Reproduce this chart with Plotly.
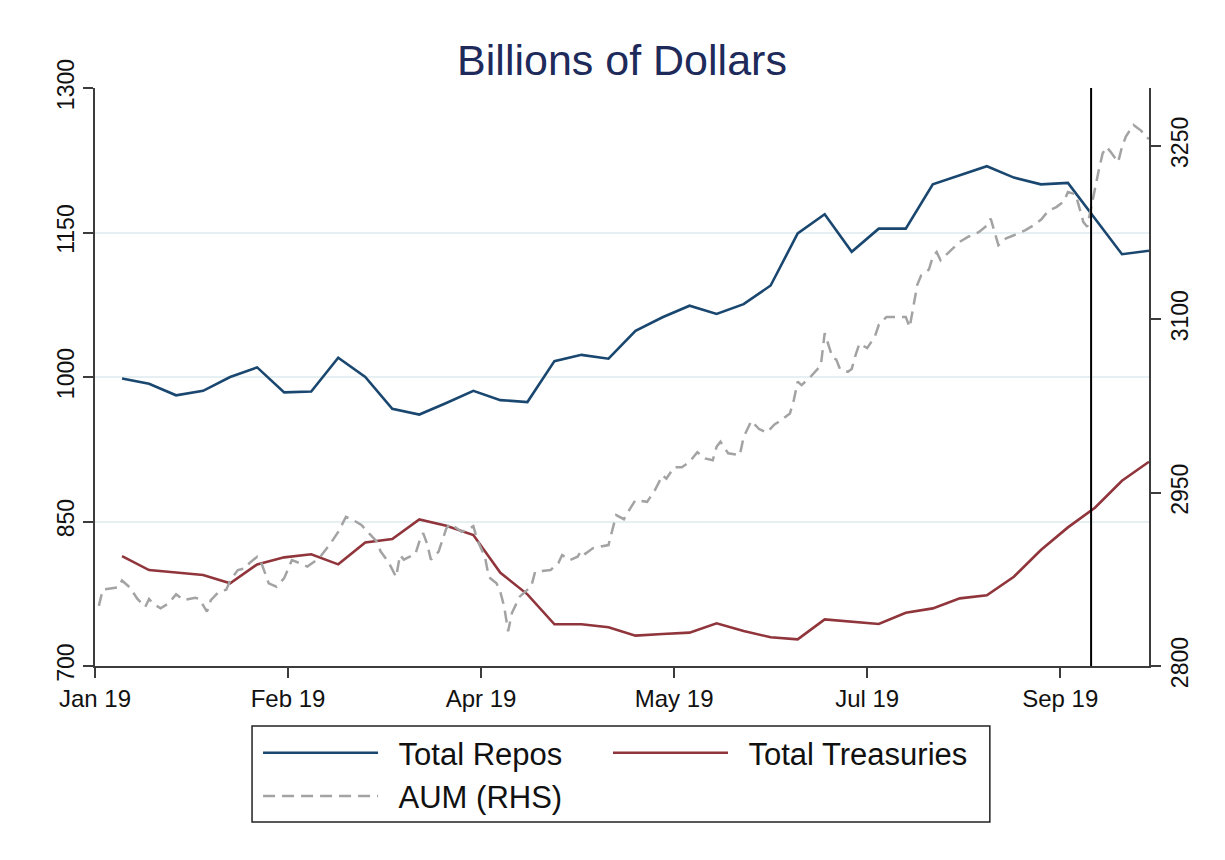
import pandas as pd
import plotly.graph_objects as go

# ---------------- data ----------------
base_date = "2019-01-01"
week_start = "2019-01-08"

total_repos = [998.5, 993, 981, 985.6, 1000, 1010, 984, 985, 1020, 1000,
               967, 961, 973, 985.6, 976, 974, 1016.5, 1023, 1019, 1048,
               1062, 1074, 1065.5, 1075.6, 1095, 1149, 1169, 1130, 1154, 1154,
               1200, 1209.5, 1218.8, 1207, 1200, 1201.5, 1164.5, 1127.5, 1131]

total_treasuries = [814, 799.6, 797, 794.4, 785.8, 805.5, 812.8, 816, 805.5, 828.3,
                    831.8, 852.2, 845.6, 836, 796.8, 774.4, 743.3, 743.3, 740.2, 731.5,
                    733.2, 734.6, 744.3, 736.3, 729.8, 727.7, 748.4, 746, 743.6, 755.3,
                    759.8, 770.2, 773.4, 792.7, 820.4, 843.9, 864.3, 892.3, 912]

# AUM: day offsets from 1 Jan 2019 and values (RHS)
aum_day = [1, 2, 4, 6, 7, 9, 11, 13, 14, 15, 17, 19, 21, 23, 26, 27, 29, 30, 32, 34,
           35, 37, 39, 40, 42, 43, 45, 47, 49, 51, 53, 55, 58, 61, 63, 65, 67, 69, 71, 73,
           74, 76, 78, 79, 80, 83, 84, 85, 86, 87, 89, 90, 91, 92, 95, 97, 98, 99, 101, 102,
           104, 105, 106, 107, 108, 110, 112, 113, 114, 116, 118, 120, 121, 123, 125, 126, 127, 129, 131, 133,
           134, 135, 137, 138, 140, 143, 145, 147, 148, 150, 152, 154, 156, 158, 160, 161, 162, 164, 167, 168,
           169, 170, 172, 174, 176, 177, 180, 181, 182, 183, 185, 188, 189, 190, 191, 192, 193, 195, 196, 197,
           198, 200, 202, 203, 205, 208, 210, 211, 212, 213, 214, 216, 217, 218, 219, 222, 224, 226, 228, 229,
           231, 232, 234, 236, 238, 241, 243, 245, 247, 249, 251, 252, 254, 255, 256, 257, 258, 259, 260, 261,
           262, 263, 265, 266, 267, 269, 271, 272, 273]
aum = [2852, 2866, 2867, 2868, 2874, 2868, 2858, 2851, 2858, 2854, 2850, 2854, 2862, 2857, 2859, 2858, 2847, 2857, 2864, 2866,
       2874, 2883, 2884.5, 2889, 2894.5, 2890, 2871.5, 2868.6, 2876, 2891.6, 2889, 2886, 2893, 2906, 2916, 2929, 2926, 2922, 2914.7, 2907.5,
       2899, 2890, 2877, 2896, 2892, 2897, 2907.5, 2915, 2906, 2892, 2899, 2909, 2919, 2923, 2916, 2919, 2921, 2909, 2894.5, 2877,
       2871.5, 2864, 2851, 2830, 2846, 2860, 2866, 2869, 2881.5, 2882, 2883, 2889, 2896, 2891.6, 2894.5, 2900, 2897, 2902, 2903, 2904.6,
       2917.6, 2930.6, 2927, 2933, 2943.5, 2942, 2952, 2965, 2962, 2972, 2972, 2976.6, 2985, 2979.6, 2978, 2989.6, 2994, 2984, 2982.4, 2998,
       3005, 3012, 3005, 3002, 3009, 3011, 3018.5, 3030, 3046, 3043, 3049, 3060, 3088, 3077, 3067, 3065, 3056.5, 3054.5, 3057, 3069,
       3079, 3075, 3085, 3095, 3102, 3102, 3102, 3093, 3111, 3130, 3138, 3143, 3154, 3158, 3151, 3161, 3167, 3171, 3174, 3175.5,
       3181, 3187, 3164, 3170, 3172.6, 3177, 3181, 3186, 3194, 3197, 3202, 3210, 3208, 3196, 3184, 3180, 3197, 3212, 3229, 3243.5,
       3249, 3245, 3236, 3249, 3258, 3268, 3263, 3258, 3256]

event_date = "2019-09-16"

tick_dates = ["2019-01-01", "2019-02-20", "2019-04-11", "2019-05-31", "2019-07-20", "2019-09-08"]
tick_labels = ["Jan 19", "Feb 19", "Apr 19", "May 19", "Jul 19", "Sep 19"]
left_ticks = [700, 850, 1000, 1150, 1300]
right_ticks = [2800, 2950, 3100, 3250]

# ---------------- build ----------------
week_dates = pd.date_range(week_start, periods=len(total_repos), freq="7D")
aum_dates = pd.Timestamp(base_date) + pd.to_timedelta(aum_day, unit="D")

FONT = "Liberation Sans, Arial, sans-serif"
BLUE = "#1a476f"
RED = "#90353b"
GRAY = "#a3a3a3"
AXIS = "#3c3c3c"
SP = "\u2002"

fig = go.Figure()
fig.add_trace(go.Scatter(x=aum_dates, y=aum, name=SP + "AUM (RHS)", yaxis="y2",
                         mode="lines", line=dict(color=GRAY, width=2.5, dash="12px,7px"),
                         legend="legend", legendrank=3))
fig.add_trace(go.Scatter(x=week_dates, y=total_treasuries, name=SP + "Total Treasuries",
                         mode="lines", line=dict(color=RED, width=2.6),
                         legend="legend2", legendrank=2))
fig.add_trace(go.Scatter(x=week_dates, y=total_repos, name=SP + "Total Repos",
                         mode="lines", line=dict(color=BLUE, width=2.6),
                         legend="legend", legendrank=1))

fig.add_shape(type="line", xref="x", yref="paper", x0=event_date, x1=event_date,
              y0=0, y1=1, line=dict(color="black", width=2))
# legend frame
fig.add_shape(type="rect", xref="paper", yref="paper", x0=0.149, x1=0.849,
              y0=-0.2698, y1=-0.1038, line=dict(color="#222222", width=1.5),
              fillcolor="rgba(0,0,0,0)", layer="above")

legend_common = dict(orientation="v", yanchor="top", xanchor="left", y=-0.104,
                     itemwidth=115, bgcolor="rgba(0,0,0,0)", borderwidth=0,
                     font=dict(size=31, family=FONT, color="#111111"),
                     traceorder="normal", tracegroupgap=0)

fig.update_layout(
    width=1225, height=860,
    paper_bgcolor="white", plot_bgcolor="white",
    margin=dict(l=87, r=84, t=80, b=202),
    font=dict(family=FONT, color="#111111"),
    title=dict(text="Billions of Dollars", x=0.5, xref="paper", xanchor="center",
               y=1 - 52 / 860, yref="container", yanchor="middle",
               font=dict(size=43, color="#1e2a5a", family=FONT)),
    showlegend=True,
    legend=dict(x=0.1547, **legend_common),
    legend2=dict(x=0.4867, **legend_common),
    xaxis=dict(type="date", range=["2019-01-01", "2019-10-01"],
               tickmode="array", tickvals=tick_dates, ticktext=tick_labels,
               ticks="outside", ticklen=10, tickwidth=1.5, tickcolor=AXIS,
               showline=True, linecolor=AXIS, linewidth=1.5, showgrid=False,
               zeroline=False, tickfont=dict(size=24, family=FONT, color="#111111")),
    yaxis=dict(range=[700, 1300], tickmode="array", tickvals=left_ticks,
               ticks="outside", ticklen=10, tickwidth=1.5, tickcolor=AXIS,
               showline=True, linecolor=AXIS, linewidth=1.5,
               showgrid=True, gridcolor="#e6f0f2", gridwidth=1.5, zeroline=False,
               tickangle=-90, tickfont=dict(size=23, family=FONT, color="#111111")),
    yaxis2=dict(range=[2800, 3300], overlaying="y", side="right", tickmode="array",
                tickvals=right_ticks, ticks="outside", ticklen=10, tickwidth=1.5,
                tickcolor=AXIS, showline=True, linecolor=AXIS, linewidth=1.5,
                showgrid=False, zeroline=False, tickangle=-90,
                tickfont=dict(size=23, family=FONT, color="#111111")),
)

fig.write_html("out.html")
